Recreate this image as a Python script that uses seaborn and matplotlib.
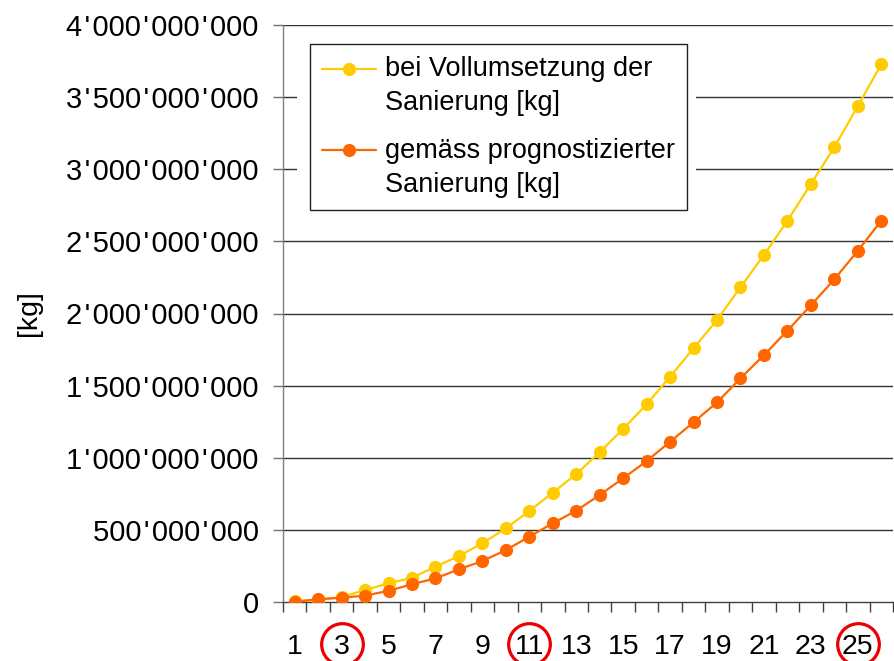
import numpy as np
import pandas as pd
import matplotlib
matplotlib.use("Agg")
import matplotlib.pyplot as plt
import seaborn as sns
from matplotlib.legend_handler import HandlerLine2D
from matplotlib.lines import Line2D
from matplotlib.patches import Rectangle
from matplotlib.transforms import blended_transform_factory

# ---- data ----
years = list(range(1, 27))
voll = [5e6, 14e6, 35e6, 83e6, 130e6, 168e6, 245e6, 319e6, 407e6, 511e6,
        631e6, 758e6, 887e6, 1039e6, 1200e6, 1371e6, 1562e6, 1759e6, 1955e6,
        2182e6, 2406e6, 2643e6, 2898e6, 3152e6, 3438e6, 3728e6]
progn = [2e6, 19e6, 30e6, 44e6, 78e6, 123e6, 164e6, 227e6, 284e6, 360e6,
         453e6, 546e6, 633e6, 742e6, 858e6, 977e6, 1111e6, 1246e6, 1384e6,
         1551e6, 1712e6, 1881e6, 2057e6, 2237e6, 2435e6, 2643e6]
label_voll = "bei Vollumsetzung der\nSanierung [kg]"
label_progn = "gemäss prognostizierter\nSanierung [kg]"
circled = [3, 11, 25]
yticks = [0, 5e8, 1e9, 1.5e9, 2e9, 2.5e9, 3e9, 3.5e9, 4e9]
ytick_labels = ["0", "500'000'000", "1'000'000'000", "1'500'000'000",
                "2'000'000'000", "2'500'000'000", "3'000'000'000",
                "3'500'000'000", "4'000'000'000"]
colors = {"voll": "#FFCC00", "progn": "#FF6600"}

df = pd.DataFrame({
    "x": years * 2,
    "y": voll + progn,
    "s": ["voll"] * len(years) + ["progn"] * len(years),
})

sns.set_theme(style="white")
plt.rcParams["font.family"] = ["Liberation Sans", "DejaVu Sans"]
plt.rcParams["text.color"] = "black"
plt.rcParams["axes.labelcolor"] = "black"
plt.rcParams["xtick.labelcolor"] = "black"
plt.rcParams["ytick.labelcolor"] = "black"

fig = plt.figure(figsize=(8.95, 6.61), dpi=100)
ax = fig.add_axes([283 / 895, 59 / 661, 610 / 895, 577 / 661])

sns.lineplot(data=df, x="x", y="y", hue="s", palette=colors, marker="o",
             markersize=9.5, markeredgewidth=0, linewidth=1.6, legend=False,
             ax=ax, zorder=3)

ax.set_xlim(0.5, 26.5)
ax.set_ylim(0, 4e9)
ax.set_yticks(yticks)
ax.set_yticklabels([s.replace("'", "\u200a'\u200a") for s in ytick_labels])
ax.set_xticks(list(range(1, 27, 2)))
ax.set_xticklabels([str(v) for v in range(1, 27, 2)])
ax.set_xticks(np.arange(0.5, 27, 1.0), minor=True)
ax.tick_params(axis="x", which="major", length=0, pad=23, labelsize=20.5)
ax.tick_params(axis="x", which="minor", length=7, width=1, color="#404040",
               direction="out", bottom=True)
ax.tick_params(axis="y", which="major", length=7, width=1, color="#707070",
               direction="out", left=True, pad=10.5, labelsize=21)
ax.tick_params(which="both", labelcolor="black")
ax.set_xlabel("")
ax.set_ylabel("[kg]", fontsize=20.5, color="black")
ax.yaxis.set_label_coords((42 - 283) / 610, 0.5)

ax.grid(False)
for v in yticks[1:]:
    ax.axhline(v, color="#333333", linewidth=1, zorder=0.5)

for sp in ["top", "right"]:
    ax.spines[sp].set_visible(False)
ax.spines["left"].set_color("#808080")
ax.spines["left"].set_linewidth(1)
ax.spines["bottom"].set_color("#404040")
ax.spines["bottom"].set_linewidth(1)
ax.set_facecolor("white")

# white area behind legend
ax.add_patch(Rectangle((0.023, 0.63), 0.654, 0.36, transform=ax.transAxes,
                       facecolor="white", edgecolor="none", zorder=1))


class UpHandler(HandlerLine2D):
    def create_artists(self, legend, orig_handle, xdescent, ydescent, width,
                       height, fontsize, trans):
        return super().create_artists(legend, orig_handle, xdescent,
                                      ydescent - 26, width, height, fontsize,
                                      trans)


h1 = Line2D([], [], color=colors["voll"], marker="o", markersize=9.5,
            markeredgewidth=0, linewidth=1.6)
h2 = Line2D([], [], color=colors["progn"], marker="o", markersize=9.5,
            markeredgewidth=0, linewidth=1.6)
leg = ax.legend([h1, h2], [label_voll, label_progn], loc="upper left",
                bbox_to_anchor=(0.0443, 0.967), borderaxespad=0,
                fontsize=19.5, handlelength=2.0, handletextpad=0.3,
                borderpad=0.45, labelspacing=0.8, frameon=True, fancybox=False,
                edgecolor="#222222", framealpha=1,
                handler_map={Line2D: UpHandler()})
leg.get_frame().set_linewidth(1)
leg.set_zorder(5)
for t in leg.get_texts():
    t.set_linespacing(1.4)
    t.set_color("black")

# red circles around some tick labels
tr = blended_transform_factory(ax.transData, ax.transAxes)
for c in circled:
    ax.plot([c], [(602 - 644) / 577], marker="o", markersize=30,
            markerfacecolor="none", markeredgecolor="#EE0000",
            markeredgewidth=2.3, transform=tr, clip_on=False, zorder=6)

fig.savefig("out.png", dpi=100, facecolor="white")
